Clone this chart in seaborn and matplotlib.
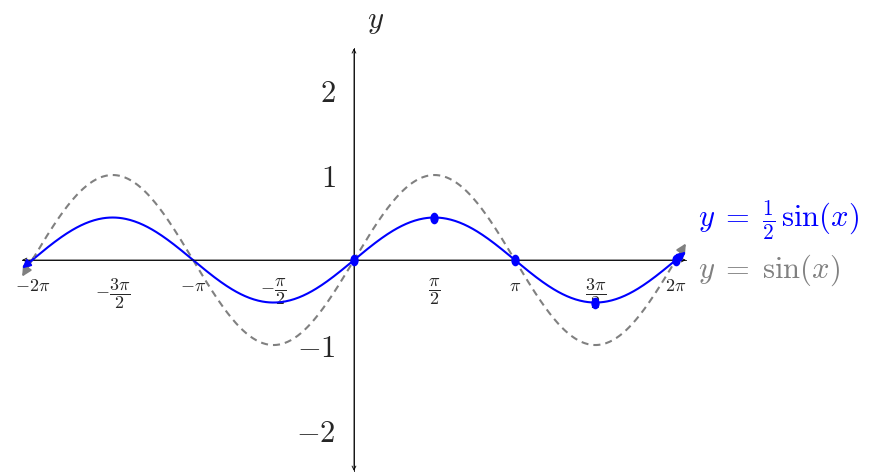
import numpy as np
import pandas as pd
import matplotlib
matplotlib.use("Agg")
import matplotlib.pyplot as plt
import seaborn as sns
from matplotlib.markers import MarkerStyle
from matplotlib.transforms import Affine2D

# curves: y = amp * sin(x), drawn a little past [-2pi, 2pi] with arrow tips
domain = (-6.40, 6.40)
tip = 6.48
amp_half = 0.5
amp_full = 1.0

# highlighted points on y = 1/2 sin(x)
pts_x = [0, np.pi / 2, np.pi, 3 * np.pi / 2, 2 * np.pi]
pts_y = [0, 0.5, 0, -0.5, 0]

xticks = [k * np.pi / 2 for k in range(-4, 5) if k != 0]
xtick_labels = [r"$-2\pi$", r"$-\dfrac{3\pi}{2}$", r"$-\pi$", r"$-\dfrac{\pi}{2}$",
                r"$\dfrac{\pi}{2}$", r"$\pi$", r"$\dfrac{3\pi}{2}$", r"$2\pi$"]
yticks = [-2, -1, 1, 2]
ytick_labels = [r"$-2$", r"$-1$", r"$1$", r"$2$"]

BLUE = "#0000ff"
GREY = "#808080"


def main():
    sns.set_style("white")
    plt.rcParams["mathtext.fontset"] = "cm"
    plt.rcParams["font.family"] = ["DejaVu Serif"]

    fig = plt.figure(figsize=(8.83, 4.75), dpi=100)
    ax = fig.add_axes([0, 0, 1, 1])

    xs = np.linspace(domain[0], domain[1], 600)
    df = pd.DataFrame({"x": xs,
                       "half": amp_half * np.sin(xs),
                       "full": amp_full * np.sin(xs)})

    sns.lineplot(data=df, x="x", y="full", ax=ax, color=GREY, lw=1.5,
                 dashes=False, linestyle=(0, (3.4, 2.4)), zorder=2)
    sns.lineplot(data=df, x="x", y="half", ax=ax, color=BLUE, lw=1.5, zorder=3)

    # arrow heads at the curve ends
    for amp, col, ms in [(amp_full, GREY, 14), (amp_half, BLUE, 12)]:
        for s in (-1, 1):
            x0, x1 = s * 6.25, s * tip
            ax.annotate("", xy=(x1, amp * np.sin(x1)), xytext=(x0, amp * np.sin(x0)),
                        arrowprops=dict(arrowstyle="-|>", color=col, lw=1.5,
                                        mutation_scale=ms, shrinkA=0, shrinkB=0),
                        zorder=4)

    sns.scatterplot(x=pts_x, y=pts_y, ax=ax, color=BLUE, s=70, linewidth=0,
                    marker=MarkerStyle("o", transform=Affine2D().scale(0.72, 1.0)),
                    zorder=5)

    # axes through the origin
    for sp in ["top", "right"]:
        ax.spines[sp].set_visible(False)
    ax.spines["left"].set_position(("data", 0))
    ax.spines["bottom"].set_position(("data", 0))
    ax.spines["bottom"].set_bounds(-6.48, 6.48)
    ax.spines["left"].set_bounds(-2.48, 2.49)
    for sp in ["left", "bottom"]:
        ax.spines[sp].set_linewidth(0.6)
        ax.spines[sp].set_color("black")
    ax.annotate("", xy=(6.48, 0), xytext=(-6.48, 0),
                arrowprops=dict(arrowstyle="<->", lw=0.6, color="black",
                                mutation_scale=7, shrinkA=0, shrinkB=0))
    ax.annotate("", xy=(0, 2.49), xytext=(0, -2.48),
                arrowprops=dict(arrowstyle="<->", lw=0.6, color="black",
                                mutation_scale=7, shrinkA=0, shrinkB=0))

    ax.set_xticks(xticks, xtick_labels)
    ax.set_yticks(yticks, ytick_labels)
    ax.tick_params(axis="x", direction="inout", length=8, width=0.6,
                   labelsize=13, pad=8.0)
    ax.tick_params(axis="y", direction="inout", length=8, width=0.6,
                   labelsize=22, pad=9.0)
    ax.set_xlabel("")
    ax.set_ylabel("")

    ax.set_xlim(-6.911, 10.328)
    ax.set_ylim(-2.529, 3.059)

    ax.text(0.43, 2.82, r"$y$", fontsize=22, ha="center", va="center")
    ax.text(6.716, 0.388, r"$y\;=\;\frac{1}{2}\,\sin(x)$", fontsize=22,
            color=BLUE, ha="left", va="baseline")
    ax.text(6.716, -0.212, r"$y\;=\;\sin(x)$", fontsize=22,
            color=GREY, ha="left", va="baseline")

    fig.savefig("out.png", dpi=100)


if __name__ == "__main__":
    main()
